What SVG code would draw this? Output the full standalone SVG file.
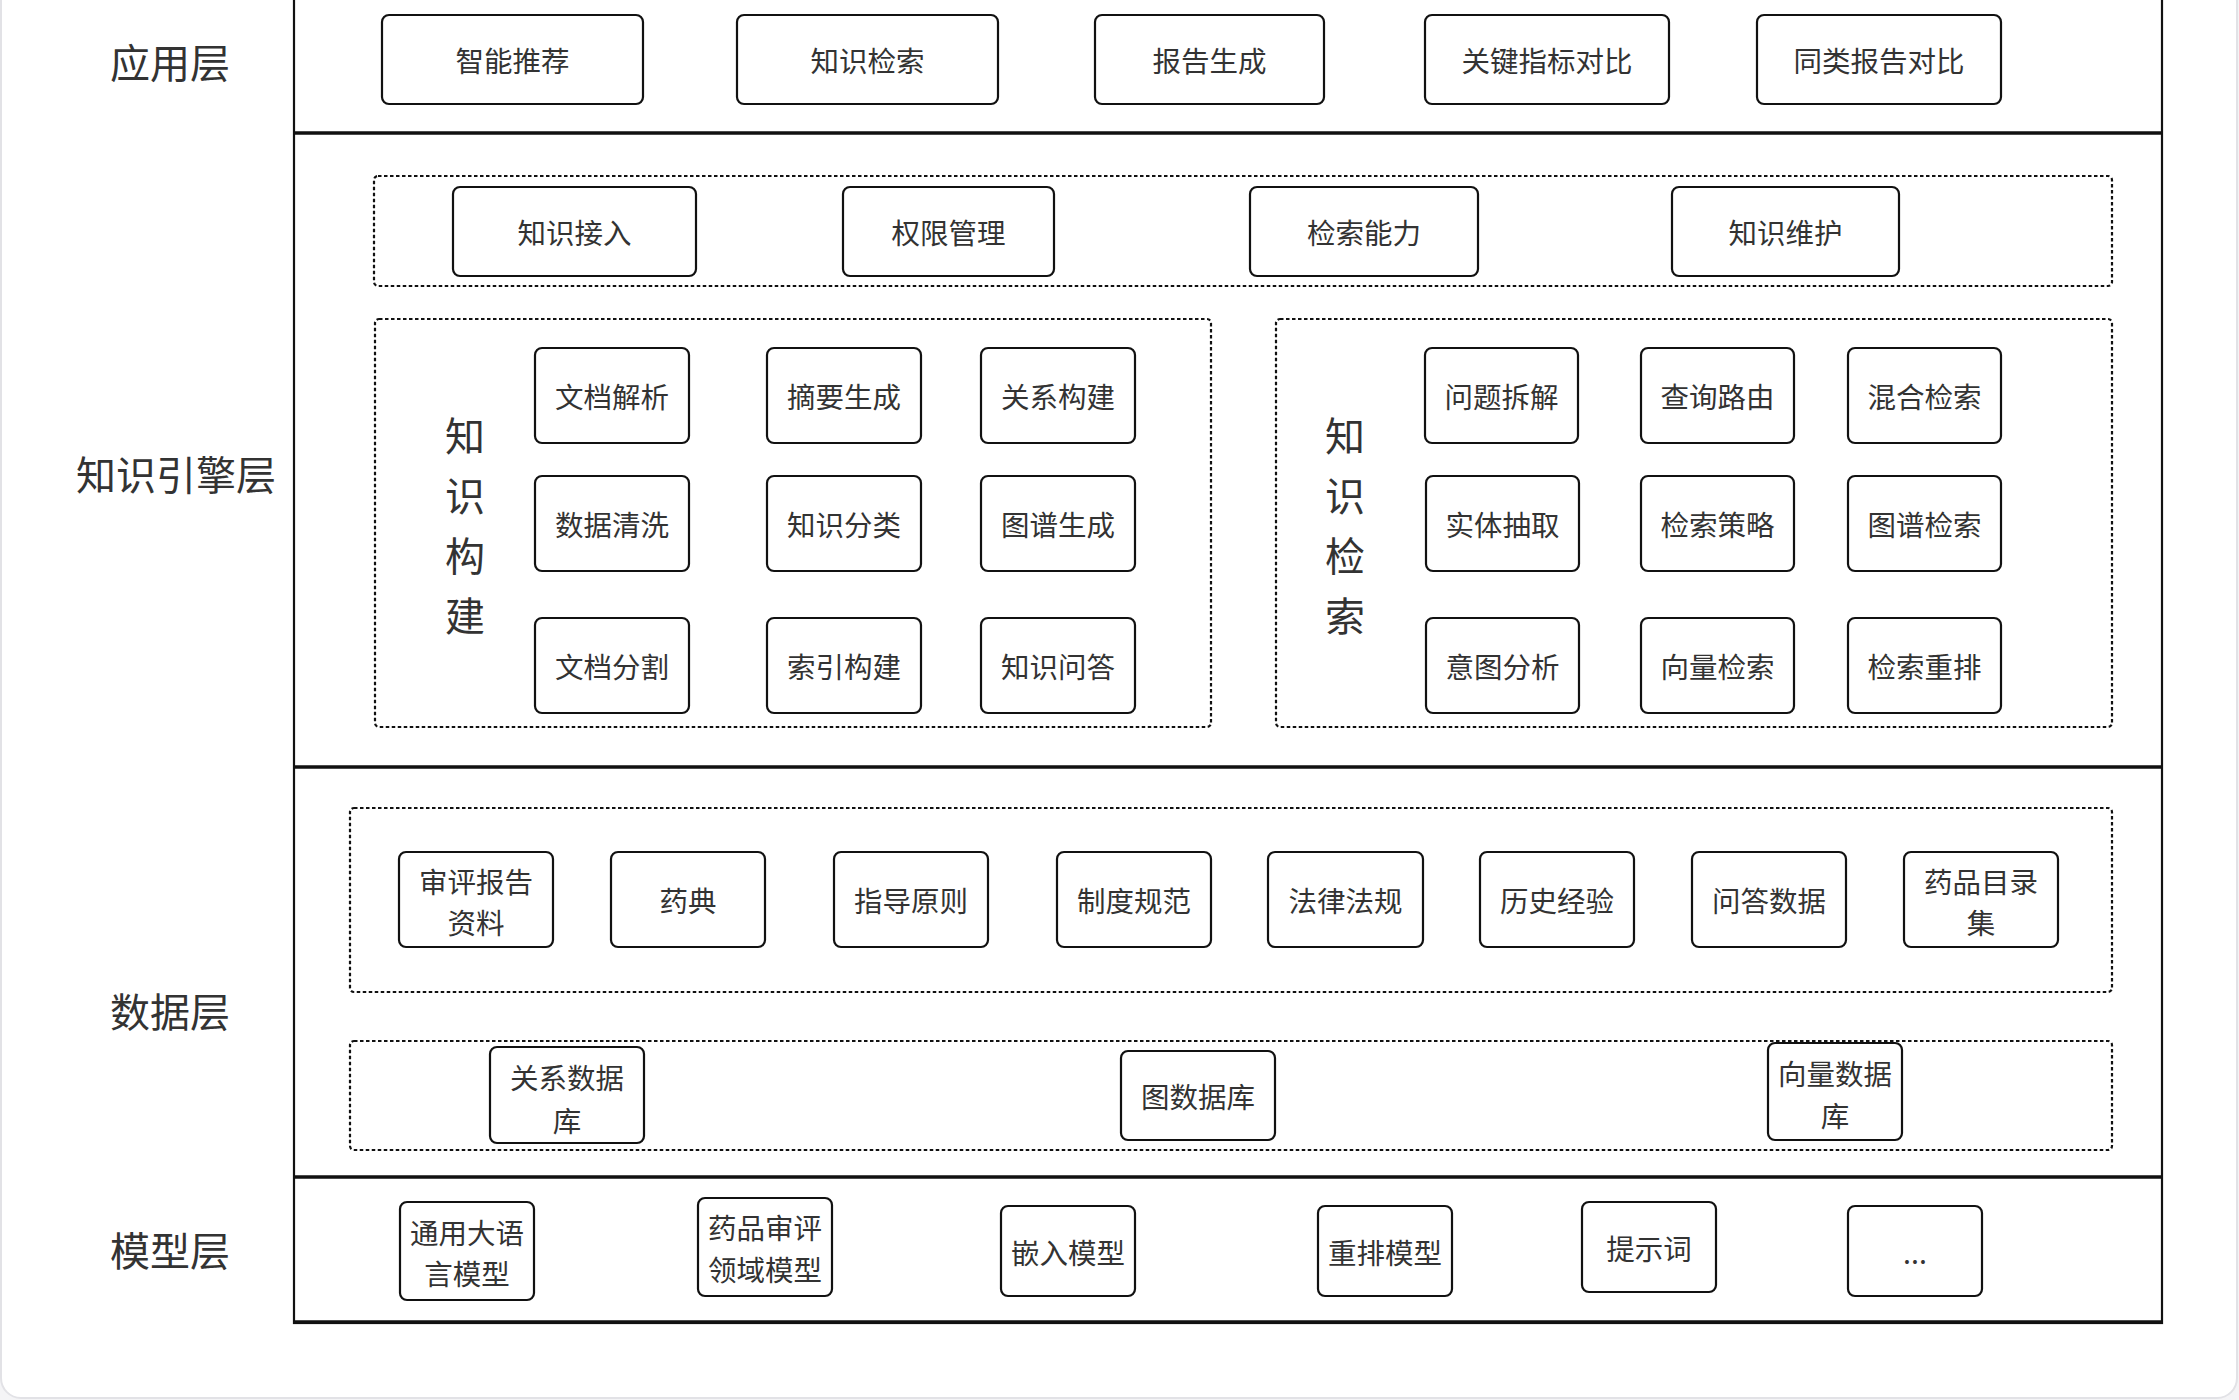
<svg xmlns="http://www.w3.org/2000/svg" width="2239" height="1400" viewBox="0 0 2239 1400">
<style>
.bg{fill:#f4f4f6}
.card{fill:#ffffff;stroke:#e2e2e6;stroke-width:2}
.frame{fill:none;stroke:#111;stroke-width:2.2}
.sep{stroke:#111;stroke-width:3.5}
.grp{fill:none;stroke:#111;stroke-width:2.2;stroke-dasharray:3.5 2.5}
.box{fill:#fff;stroke:#111;stroke-width:2.2}
.t{font-family:"Noto Sans CJK SC","Noto Sans",sans-serif;font-size:28.5px;fill:#333;text-anchor:middle}
.lay{font-family:"Noto Sans CJK SC","Noto Sans",sans-serif;font-size:40px;fill:#333}
.v{font-family:"Noto Sans CJK SC","Noto Sans",sans-serif;font-size:40px;fill:#333;text-anchor:middle}
</style>
<rect class="bg" x="0" y="0" width="2239" height="1400"/>
<rect class="card" x="1" y="-40" width="2236" height="1438" rx="20"/>

<g id="layers">
<rect class="frame" x="294" y="-10" width="1868" height="1333"/>
<line class="sep" x1="294" y1="133" x2="2162" y2="133"/>
<line class="sep" x1="294" y1="767" x2="2162" y2="767"/>
<line class="sep" x1="294" y1="1177" x2="2162" y2="1177"/>
<line class="sep" x1="294" y1="1322" x2="2162" y2="1322"/>
<text class="lay" x="110" y="78">应用层</text>
<text class="lay" x="76" y="490">知识引擎层</text>
<text class="lay" x="110" y="1027">数据层</text>
<text class="lay" x="110" y="1266">模型层</text>
</g>

<g id="groups">
<rect class="grp" x="374" y="176" width="1738" height="110" rx="4"/>
<rect class="grp" x="375" y="319" width="836" height="408" rx="4"/>
<rect class="grp" x="1276" y="319" width="836" height="408" rx="4"/>
<rect class="grp" x="350" y="808" width="1762" height="184" rx="4"/>
<rect class="grp" x="350" y="1041" width="1762" height="109" rx="4"/>
</g>

<g id="group-labels">
<text class="v" x="465" y="451">知</text>
<text class="v" x="465" y="511">识</text>
<text class="v" x="465" y="571">构</text>
<text class="v" x="465" y="631">建</text>
<text class="v" x="1345" y="451">知</text>
<text class="v" x="1345" y="511">识</text>
<text class="v" x="1345" y="571">检</text>
<text class="v" x="1345" y="631">索</text>
</g>

<g id="connectors"></g>

<!-- Application layer -->
<g id="n-znjt"><rect class="box" x="382" y="15" width="261" height="89" rx="7"/><text class="t" x="512.5" y="72">智能推荐</text></g>
<g id="n-zsjs"><rect class="box" x="737" y="15" width="261" height="89" rx="7"/><text class="t" x="867.5" y="72">知识检索</text></g>
<g id="n-bgsc"><rect class="box" x="1095" y="15" width="229" height="89" rx="7"/><text class="t" x="1209.5" y="72">报告生成</text></g>
<g id="n-gjzb"><rect class="box" x="1425" y="15" width="244" height="89" rx="7"/><text class="t" x="1547" y="72">关键指标对比</text></g>
<g id="n-tlbg"><rect class="box" x="1757" y="15" width="244" height="89" rx="7"/><text class="t" x="1879" y="72">同类报告对比</text></g>

<!-- Knowledge engine top row -->
<g id="n-zsjr"><rect class="box" x="453" y="187" width="243" height="89" rx="7"/><text class="t" x="574.5" y="244">知识接入</text></g>
<g id="n-qxgl"><rect class="box" x="843" y="187" width="211" height="89" rx="7"/><text class="t" x="948.5" y="244">权限管理</text></g>
<g id="n-jsnl"><rect class="box" x="1250" y="187" width="228" height="89" rx="7"/><text class="t" x="1364" y="244">检索能力</text></g>
<g id="n-zswh"><rect class="box" x="1672" y="187" width="227" height="89" rx="7"/><text class="t" x="1785.5" y="244">知识维护</text></g>

<!-- Knowledge build grid -->
<g id="n-wdjx"><rect class="box" x="535" y="348" width="154" height="95" rx="7"/><text class="t" x="612" y="408">文档解析</text></g>
<g id="n-zysc"><rect class="box" x="767" y="348" width="154" height="95" rx="7"/><text class="t" x="844" y="408">摘要生成</text></g>
<g id="n-gxgj"><rect class="box" x="981" y="348" width="154" height="95" rx="7"/><text class="t" x="1058" y="408">关系构建</text></g>
<g id="n-sjqx"><rect class="box" x="535" y="476" width="154" height="95" rx="7"/><text class="t" x="612" y="536">数据清洗</text></g>
<g id="n-zsfl"><rect class="box" x="767" y="476" width="154" height="95" rx="7"/><text class="t" x="844" y="536">知识分类</text></g>
<g id="n-tpsc"><rect class="box" x="981" y="476" width="154" height="95" rx="7"/><text class="t" x="1058" y="536">图谱生成</text></g>
<g id="n-wdfg"><rect class="box" x="535" y="618" width="154" height="95" rx="7"/><text class="t" x="612" y="678">文档分割</text></g>
<g id="n-sygj"><rect class="box" x="767" y="618" width="154" height="95" rx="7"/><text class="t" x="844" y="678">索引构建</text></g>
<g id="n-zswd"><rect class="box" x="981" y="618" width="154" height="95" rx="7"/><text class="t" x="1058" y="678">知识问答</text></g>

<!-- Knowledge retrieval grid -->
<g id="n-wtcj"><rect class="box" x="1425" y="348" width="153" height="95" rx="7"/><text class="t" x="1501.5" y="408">问题拆解</text></g>
<g id="n-cxly"><rect class="box" x="1641" y="348" width="153" height="95" rx="7"/><text class="t" x="1717.5" y="408">查询路由</text></g>
<g id="n-hhjs"><rect class="box" x="1848" y="348" width="153" height="95" rx="7"/><text class="t" x="1924.5" y="408">混合检索</text></g>
<g id="n-stcq"><rect class="box" x="1426" y="476" width="153" height="95" rx="7"/><text class="t" x="1502.5" y="536">实体抽取</text></g>
<g id="n-jscl"><rect class="box" x="1641" y="476" width="153" height="95" rx="7"/><text class="t" x="1717.5" y="536">检索策略</text></g>
<g id="n-tpjs"><rect class="box" x="1848" y="476" width="153" height="95" rx="7"/><text class="t" x="1924.5" y="536">图谱检索</text></g>
<g id="n-ytfx"><rect class="box" x="1426" y="618" width="153" height="95" rx="7"/><text class="t" x="1502.5" y="678">意图分析</text></g>
<g id="n-xljs"><rect class="box" x="1641" y="618" width="153" height="95" rx="7"/><text class="t" x="1717.5" y="678">向量检索</text></g>
<g id="n-jscp"><rect class="box" x="1848" y="618" width="153" height="95" rx="7"/><text class="t" x="1924.5" y="678">检索重排</text></g>

<!-- Data layer row 1 -->
<g id="n-spbg"><rect class="box" x="399" y="852" width="154" height="95" rx="7"/><text class="t" x="476" y="893">审评报告</text><text class="t" x="476" y="934">资料</text></g>
<g id="n-yd"><rect class="box" x="611" y="852" width="154" height="95" rx="7"/><text class="t" x="688" y="912">药典</text></g>
<g id="n-zdyz"><rect class="box" x="834" y="852" width="154" height="95" rx="7"/><text class="t" x="911" y="912">指导原则</text></g>
<g id="n-zdgf"><rect class="box" x="1057" y="852" width="154" height="95" rx="7"/><text class="t" x="1134" y="912">制度规范</text></g>
<g id="n-flfg"><rect class="box" x="1268" y="852" width="155" height="95" rx="7"/><text class="t" x="1345.5" y="912">法律法规</text></g>
<g id="n-lsjy"><rect class="box" x="1480" y="852" width="154" height="95" rx="7"/><text class="t" x="1557" y="912">历史经验</text></g>
<g id="n-wdsj"><rect class="box" x="1692" y="852" width="154" height="95" rx="7"/><text class="t" x="1769" y="912">问答数据</text></g>
<g id="n-ypml"><rect class="box" x="1904" y="852" width="154" height="95" rx="7"/><text class="t" x="1981" y="893">药品目录</text><text class="t" x="1981" y="934">集</text></g>

<!-- Data layer row 2 -->
<g id="n-gxsjk"><rect class="box" x="490" y="1047" width="154" height="96" rx="7"/><text class="t" x="567" y="1089">关系数据</text><text class="t" x="567" y="1132">库</text></g>
<g id="n-tsjk"><rect class="box" x="1121" y="1051" width="154" height="89" rx="7"/><text class="t" x="1198" y="1108">图数据库</text></g>
<g id="n-xlsjk"><rect class="box" x="1768" y="1043" width="134" height="97" rx="7"/><text class="t" x="1835" y="1085">向量数据</text><text class="t" x="1835" y="1127">库</text></g>

<!-- Model layer -->
<g id="n-tydyy"><rect class="box" x="400" y="1202" width="134" height="98" rx="7"/><text class="t" x="467" y="1244">通用大语</text><text class="t" x="467" y="1285">言模型</text></g>
<g id="n-ypsp"><rect class="box" x="698" y="1198" width="134" height="98" rx="7"/><text class="t" x="765" y="1239">药品审评</text><text class="t" x="765" y="1281">领域模型</text></g>
<g id="n-qrmx"><rect class="box" x="1001" y="1206" width="134" height="90" rx="7"/><text class="t" x="1068" y="1264">嵌入模型</text></g>
<g id="n-cpmx"><rect class="box" x="1318" y="1206" width="134" height="90" rx="7"/><text class="t" x="1385" y="1264">重排模型</text></g>
<g id="n-tsc"><rect class="box" x="1582" y="1202" width="134" height="90" rx="7"/><text class="t" x="1649" y="1260">提示词</text></g>
<g id="n-more"><rect class="box" x="1848" y="1206" width="134" height="90" rx="7"/><text class="t" x="1915" y="1264">...</text></g>
</svg>
